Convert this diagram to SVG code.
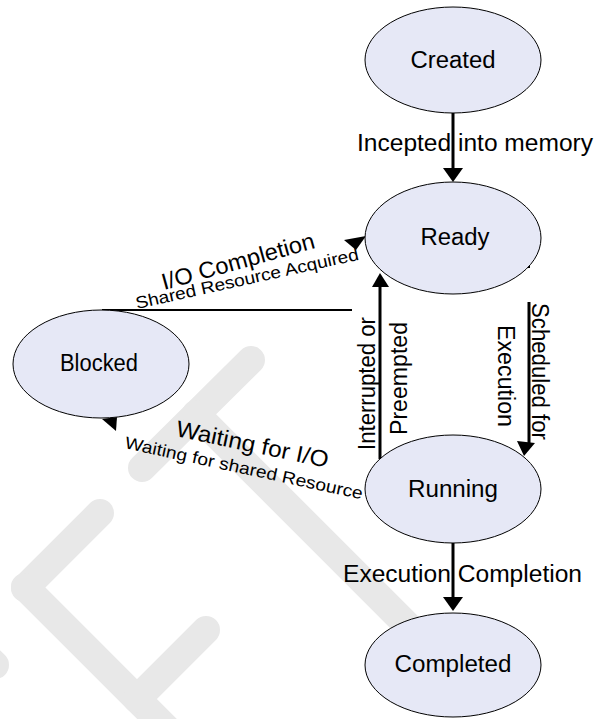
<svg xmlns="http://www.w3.org/2000/svg" width="600" height="719" viewBox="0 0 600 719">
<style>
.wm{stroke:#e8e8e8;stroke-width:28;stroke-linecap:round;fill:none}
.node{fill:#e6e8f6;stroke:#000;stroke-width:1}
.lbl{font-family:"Liberation Sans",Arial,sans-serif;font-size:23px;fill:#000}
.big{font-family:"Liberation Sans",Arial,sans-serif;font-size:23px;fill:#000}
.small{font-family:"Liberation Sans",Arial,sans-serif;font-size:17px;fill:#000}
.edge{stroke:#000;stroke-width:3;fill:none}
.thin{stroke:#000;stroke-width:2;fill:none}
.head{fill:#000;stroke:none}
</style>
<rect width="600" height="719" fill="#fff"/>
<g id="watermark">
<line class="wm" x1="251" y1="360" x2="142" y2="468"/>
<line class="wm" x1="196" y1="414" x2="440" y2="658"/>
<line class="wm" x1="100" y1="513" x2="25" y2="588"/>
<line class="wm" x1="25" y1="587" x2="190" y2="752"/>
<line class="wm" x1="206" y1="630" x2="137" y2="699"/>
<line class="wm" x1="-20" y1="650" x2="-5" y2="665"/>
</g>
<g id="connectors">
<line class="edge" x1="453" y1="113" x2="453" y2="170"/>
<polygon class="head" points="443,168 463,168 453,182"/>
<line class="edge" x1="453" y1="543" x2="453" y2="599"/>
<polygon class="head" points="443,597 463,597 453,611"/>
<line class="edge" x1="380" y1="459" x2="380" y2="285"/>
<polygon class="head" points="372,287 389,287 380,273"/>
<line class="edge" x1="529" y1="302" x2="529" y2="444"/>
<polygon class="head" points="517,441 535,443 524,456"/>
<line class="thin" x1="102" y1="310" x2="352" y2="310"/>
<polygon class="head" points="344,240 366,236 356,250"/>
<polygon class="head" points="102,419 117,417 116,431"/>
<rect x="526" y="262" width="4" height="6" fill="#000"/>
<text class="big" transform="translate(357,151)" textLength="236" lengthAdjust="spacingAndGlyphs">Incepted into memory</text>
<text class="big" transform="translate(343,582)" textLength="239" lengthAdjust="spacingAndGlyphs">Execution Completion</text>
<text class="big" transform="translate(375,450) rotate(-90)" textLength="133" lengthAdjust="spacingAndGlyphs">Interrupted or</text>
<text class="big" transform="translate(407,435) rotate(-90)" textLength="113" lengthAdjust="spacingAndGlyphs">Preempted</text>
<text class="big" transform="translate(532,303) rotate(90)" textLength="137" lengthAdjust="spacingAndGlyphs">Scheduled for</text>
<text class="big" transform="translate(498,325) rotate(90)" textLength="102" lengthAdjust="spacingAndGlyphs">Execution</text>
<text class="big" transform="translate(164,290) rotate(-15.5)" textLength="158" lengthAdjust="spacingAndGlyphs">I/O Completion</text>
<text class="small" transform="translate(137,309) rotate(-12.5)" textLength="228" lengthAdjust="spacingAndGlyphs">Shared Resource Acquired</text>
<text class="big" transform="translate(175,436) rotate(11.8)" textLength="155" lengthAdjust="spacingAndGlyphs">Waiting for I/O</text>
<text class="small" transform="translate(124,448) rotate(12.2)" textLength="243" lengthAdjust="spacingAndGlyphs">Waiting for shared Resource</text>
</g>
<g id="created">
<ellipse class="node" cx="453" cy="60" rx="88" ry="53"/>
<text class="lbl" x="453" y="68" text-anchor="middle" textLength="85" lengthAdjust="spacingAndGlyphs">Created</text>
</g>
<g id="ready">
<ellipse class="node" cx="453" cy="238" rx="88" ry="56"/>
<text class="lbl" x="455" y="245" text-anchor="middle" textLength="69" lengthAdjust="spacingAndGlyphs">Ready</text>
</g>
<g id="blocked">
<ellipse class="node" cx="101" cy="364" rx="88" ry="54"/>
<text class="lbl" x="99" y="371" text-anchor="middle" textLength="78" lengthAdjust="spacingAndGlyphs">Blocked</text>
</g>
<g id="running">
<ellipse class="node" cx="453" cy="489" rx="88" ry="54"/>
<text class="lbl" x="453" y="497" text-anchor="middle" textLength="90" lengthAdjust="spacingAndGlyphs">Running</text>
</g>
<g id="completed">
<ellipse class="node" cx="453" cy="665" rx="88" ry="52"/>
<text class="lbl" x="453" y="672" text-anchor="middle" textLength="117" lengthAdjust="spacingAndGlyphs">Completed</text>
</g>
</svg>
